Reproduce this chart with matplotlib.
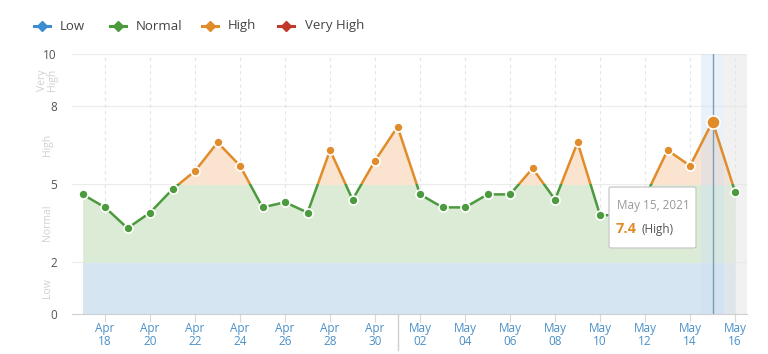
import matplotlib
matplotlib.use("Agg")
import matplotlib.pyplot as plt
from matplotlib.patches import Rectangle, FancyBboxPatch
from matplotlib.lines import Line2D
import numpy as np

plt.rcParams["font.family"] = ["Open Sans", "DejaVu Sans"]

# ---- data ----
dates = ["Apr 17", "Apr 18", "Apr 19", "Apr 20", "Apr 21", "Apr 22", "Apr 23", "Apr 24",
         "Apr 25", "Apr 26", "Apr 27", "Apr 28", "Apr 29", "Apr 30", "May 01", "May 02",
         "May 03", "May 04", "May 05", "May 06", "May 07", "May 08", "May 09", "May 10",
         "May 11", "May 12", "May 13", "May 14", "May 15", "May 16"]
values = [4.6, 4.1, 3.3, 3.9, 4.8, 5.5, 6.6, 5.7, 4.1, 4.3, 3.9, 6.3, 4.4, 5.9, 7.2,
          4.6, 4.1, 4.1, 4.6, 4.6, 5.6, 4.4, 6.6, 3.8, 3.8, 4.5, 6.3, 5.7, 7.4, 4.7]
tick_labels = ["Apr\n18", "Apr\n20", "Apr\n22", "Apr\n24", "Apr\n26", "Apr\n28", "Apr\n30",
               "May\n02", "May\n04", "May\n06", "May\n08", "May\n10", "May\n12", "May\n14", "May\n16"]
tick_idx = [1, 3, 5, 7, 9, 11, 13, 15, 17, 19, 21, 23, 25, 27, 29]
zone_names = ["Low", "Normal", "High", "Very High"]
zone_bounds = [0, 2, 5, 8, 10]
y_ticks = [0, 2, 5, 8, 10]
highlight_idx = 28
tooltip_date = "May 15, 2021"

line_cols = ["#3d8bd0", "#4c9a3e", "#e08c2a", "#c0392b"]
fill_cols = ["#d5e5f2", "#dcebd5", "#fae3cf", "#f6d5d2"]

x = np.arange(len(values))
v = np.array(values)

fig = plt.figure(figsize=(7.68, 3.54), dpi=100)
ax = fig.add_axes([72/768, 1-314/354, (747-72)/768, (314-54)/354])
ax.set_xlim(-0.47, 29.53)
ax.set_ylim(0, 10)

# gridlines
for yt in y_ticks[1:]:
    ax.axhline(yt, color="#ececec", lw=0.8, zorder=0)
for ti in tick_idx:
    ax.axvline(ti, color="#e4e4e4", lw=0.8, ls=(0, (3, 3)), zorder=0)

# zone fills and lines via clipping
for i in range(4):
    lo, hi = zone_bounds[i], zone_bounds[i+1]
    clip = Rectangle((-1, lo), 40, hi - lo, transform=ax.transData)
    f = ax.fill_between(x, 0, v, color=fill_cols[i], lw=0, zorder=1)
    f.set_clip_path(clip)
    clip2 = Rectangle((-1, lo), 40, hi - lo, transform=ax.transData)
    ln, = ax.plot(x, v, color=line_cols[i], lw=1.8, zorder=3, solid_capstyle="round")
    ln.set_clip_path(clip2)

# highlight bands
ax.axvspan(highlight_idx - 0.5, highlight_idx + 0.5, color="#cfe0f2", alpha=0.45, zorder=2, lw=0)
ax.axvspan(highlight_idx + 0.5, 29.53, color="#e6e6e6", alpha=0.55, zorder=2, lw=0)

# markers
def zone_of(val):
    for i in range(4):
        if val < zone_bounds[i+1]:
            return i
    return 3

for xi, vi in zip(x, v):
    big = xi == highlight_idx
    ax.plot(xi, vi, "o", ms=9.5 if big else 6.5, mfc=line_cols[zone_of(vi)],
            mec="white", mew=1.2, zorder=4)

# hover line
ax.axvline(highlight_idx, color="#7f9bb8", lw=1.0, zorder=3.5)

# spines / ticks
for s in ["top", "right", "left"]:
    ax.spines[s].set_visible(False)
ax.spines["bottom"].set_color("#cfcfcf")
ax.set_yticks(y_ticks)
ax.set_yticklabels([str(t) for t in y_ticks], color="#555555", fontsize=8.5)
ax.tick_params(axis="y", length=0, pad=11)
ax.set_xticks(tick_idx)
ax.set_xticklabels(tick_labels, color="#4a90c8", fontsize=8.5, linespacing=1.0)
ax.tick_params(axis="x", length=6, color="#d8d8d8", pad=0)

# month divider
ax.plot([14, 14], [0, -1.4], color="#cfcfcf", lw=1, clip_on=False, zorder=2)

# zone labels
zlabels = ["Low", "Normal", "High", "Very\nHigh"]
zpos = [1, 3.5, 6.5, 9.0]
for lab, yp in zip(zlabels, zpos):
    ax.text(-1.55, yp, lab, rotation=90, ha="center", va="center", color="#d0d0d0",
            fontsize=7.5, linespacing=0.9, transform=ax.transData, clip_on=False)

# tooltip
tb = FancyBboxPatch((609/768, 1-248/354), (696-609)/768, (248-187)/354,
                    boxstyle="round,pad=0,rounding_size=0.004", transform=fig.transFigure,
                    fc="white", ec="#cccccc", lw=1, zorder=10)
fig.patches.append(tb)
fig.text(617/768, 1-205/354, tooltip_date, color="#999999", fontsize=8.5, va="center", zorder=11)
fig.text(616/768, 1-229/354, f"{values[highlight_idx]}", color="#e08c2a", fontsize=10.5,
         fontweight="bold", va="center", zorder=11)
fig.text(642/768, 1-229/354, "(High)", color="#555555", fontsize=8.5, va="center", zorder=11)

# legend (manual)
leg_marker_x = [42, 118, 210, 286]
leg_text_x = [60, 136, 228, 305]
leg_y = 1 - 26/354
for c, name, mx, tx in zip(line_cols, zone_names, leg_marker_x, leg_text_x):
    fig.add_artist(Line2D([(mx-8)/768, (mx+8)/768], [leg_y, leg_y], color=c, lw=2.2,
                          transform=fig.transFigure))
    fig.add_artist(Line2D([mx/768], [leg_y], color=c, marker="D", ms=5.5, mec=c,
                          transform=fig.transFigure))
    fig.text(tx/768, leg_y, name, color="#444444", fontsize=9.5, va="center", ha="left")

fig.savefig("out.png", dpi=100)
